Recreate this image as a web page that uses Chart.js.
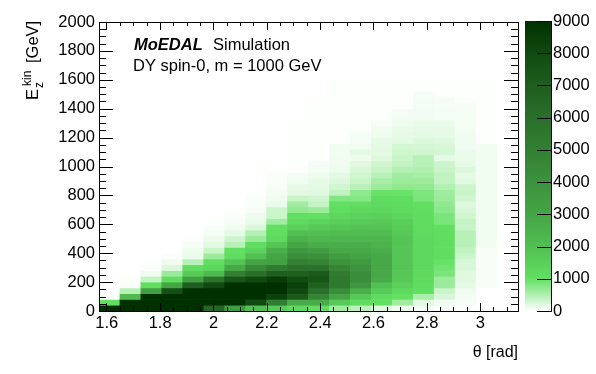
<!DOCTYPE html>
<html>
<head>
<meta charset="utf-8">
<title>MoEDAL simulation</title>
<script src="https://cdn.jsdelivr.net/npm/chart.js@4/dist/chart.umd.min.js"></script>
<style>
  html, body { margin: 0; padding: 0; background: #fff; }
  #wrap { position: relative; width: 596px; height: 374px; overflow: hidden; }
  canvas { position: absolute; top: 0; }
</style>
</head>
<body>
<div id="wrap">
  <canvas id="heatChart" width="596" height="374" style="left:0"></canvas>
  <canvas id="paletteChart" width="71" height="374" style="left:525px"></canvas>
</div>
<script>
// Bin centres in theta [rad], one per column below
const thetaCentres = [1.6101, 1.6886, 1.7671, 1.8457, 1.9242, 2.0028, 2.0813, 2.1598, 2.2384, 2.3169,
                      2.3955, 2.4740, 2.5525, 2.6311, 2.7096, 2.7882, 2.8667, 2.9452, 3.0238, 3.1023];
const energyBin = 40; // GeV per row

// Counts per column, from the lowest energy row upwards
const col0 = [9000, 1000, 10];
const col1 = [9000, 9000, 2200, 450, 40, 20, 8];
const col2 = [9000, 9000, 9000, 3300, 1100, 380, 90, 30, 20, 8, 8];
const col3 = [9000, 9000, 9000, 7700, 3000, 1050, 650, 220, 100, 30, 8, 8, 8, 8];
const col4 = [9000, 9000, 9000, 9000, 7000, 3300, 1600, 1100, 450, 130, 110, 50, 20, 8, 8, 8, 8];
const col5 = [6500, 9000, 9000, 9000, 8000, 5800, 2200, 1300, 1050, 640, 350, 170, 120, 60, 30, 10, 8, 8, 8, 8, 8];
const col6 = [3500, 9000, 9000, 9000, 9000, 7400, 5000, 2900, 1900, 1100, 1000, 450, 320, 170, 100, 50, 40, 12, 8, 8, 8, 8, 8, 8];
const col7 = [2000, 8000, 9000, 9000, 9000, 8000, 6000, 4500, 3100, 2000, 1400, 1100, 650, 480, 220, 140, 90, 50, 45, 30, 12, 8, 8, 8, 8, 8, 8];
const col8 = [1700, 5200, 8300, 9000, 9000, 8500, 7000, 5300, 3200, 3000, 2600, 1800, 1200, 1050, 1000, 600, 330, 330, 130, 100, 70, 50, 40, 30, 12, 8, 8, 8, 8, 8];
const col9 = [1200, 2800, 7200, 8000, 8400, 7900, 6800, 5900, 5000, 4300, 3700, 3000, 2500, 2000, 1500, 1200, 1050, 700, 600, 350, 180, 150, 100, 70, 15, 15, 15, 15, 15, 15, 15, 15, 15];
const col10 = [1050, 2800, 4700, 6000, 6800, 7500, 7200, 5900, 4800, 4100, 3400, 2700, 2300, 2000, 1700, 1400, 1000, 650, 380, 300, 200, 170, 150, 110, 60, 55, 15, 15, 15, 15, 15, 15, 15, 15, 15, 15];
const col11 = [620, 1700, 3000, 4300, 5400, 5500, 5300, 4700, 4000, 3400, 2900, 2600, 2300, 2100, 1800, 1500, 1300, 1100, 1000, 800, 400, 300, 220, 170, 110, 90, 90, 80, 80, 15, 15, 15, 15, 15, 15, 15, 15, 15, 15, 15];
const col12 = [430, 1100, 1700, 2600, 3800, 4300, 4300, 4000, 3600, 3100, 2900, 2600, 2300, 2100, 1900, 1600, 1450, 1250, 1050, 780, 720, 440, 350, 300, 240, 200, 100, 170, 85, 75, 70, 15, 15, 15, 15, 15, 15, 15, 15, 15];
const col13 = [190, 1000, 1100, 1600, 2000, 2800, 2900, 2900, 2900, 2900, 2700, 2500, 2300, 2100, 1900, 1700, 1500, 1300, 1200, 1100, 950, 640, 570, 450, 350, 300, 210, 180, 170, 150, 110, 100, 60, 15, 15, 15, 15, 15, 15, 15];
const col14 = [110, 600, 1000, 1250, 1450, 1700, 1750, 1800, 1800, 1800, 1800, 1800, 1800, 1700, 1600, 1500, 1300, 1200, 1100, 1050, 950, 720, 640, 600, 470, 400, 350, 310, 280, 170, 150, 140, 110, 85, 70, 15, 15, 15, 15, 15];
const col15 = [70, 200, 550, 1000, 1050, 1150, 1250, 1250, 1250, 1250, 1250, 1250, 1250, 1200, 1150, 1100, 1100, 1050, 1000, 850, 830, 700, 640, 570, 500, 450, 450, 300, 270, 220, 170, 150, 140, 85, 85, 70, 70, 60, 15, 15];
const col16 = [10, 90, 250, 340, 640, 640, 850, 900, 970, 1050, 1050, 1050, 1050, 1050, 1000, 850, 850, 750, 700, 640, 620, 500, 400, 400, 350, 320, 170, 270, 250, 210, 150, 150, 130, 70, 70, 65, 60, 15, 15, 15];
const col17 = [5, 60, 70, 100, 150, 190, 200, 250, 250, 330, 400, 450, 450, 450, 350, 380, 300, 250, 210, 300, 350, 320, 200, 170, 220, 150, 140, 130, 100, 100, 100, 80, 75, 75, 75, 75, 15, 15, 15, 15];
const col18 = [0, 0, 0, 0, 50, 50, 50, 50, 50, 50, 50, 80, 80, 80, 80, 80, 80, 80, 80, 80, 80, 80, 80, 80, 80, 80, 80, 80, 80, 15, 15, 15, 15, 15, 15, 15, 15, 15, 15, 15];
const col19 = [];
const columns = [col0, col1, col2, col3, col4, col5, col6, col7, col8, col9,
                 col10, col11, col12, col13, col14, col15, col16, col17, col18, col19];

// Axis ticks
const xTicks = [1.6, 1.8, 2, 2.2, 2.4, 2.6, 2.8, 3];
const yTicks = [0, 200, 400, 600, 800, 1000, 1200, 1400, 1600, 1800, 2000];
const zTicks = [0, 1000, 2000, 3000, 4000, 5000, 6000, 7000, 8000, 9000];
const xMinorStep = 0.05;
const yMinorStep = 50;

// Palette: [count, r, g, b]
const paletteStops = [
  [0, 255, 255, 255], [1000, 98, 224, 98], [2000, 82, 191, 82], [3000, 69, 165, 69],
  [4000, 61, 146, 61], [5000, 51, 128, 51], [6000, 42, 111, 42], [7000, 30, 94, 30],
  [8000, 16, 74, 16], [9000, 0, 48, 0]
];

const FONT = '"Liberation Sans", Arial, Helvetica, sans-serif';

function colorFor(v) {
  const c = Math.min(v, 9000);
  for (let i = 1; i < paletteStops.length; i++) {
    const a = paletteStops[i - 1], b = paletteStops[i];
    if (c <= b[0]) {
      const t = (c - a[0]) / (b[0] - a[0]);
      const mix = k => Math.round(a[k] + (b[k] - a[k]) * t);
      return `rgb(${mix(1)},${mix(2)},${mix(3)})`;
    }
  }
  return 'rgb(0,48,0)';
}

const cells = [];
columns.forEach((col, i) => {
  col.forEach((v, j) => {
    if (v > 0) cells.push({ x: thetaCentres[i], y: [j * energyBin, (j + 1) * energyBin], v });
  });
});

// Frame and ROOT style inward ticks, on all four sides
const frameTicks = {
  id: 'frameTicks',
  afterDatasetsDraw(chart) {
    const { ctx, chartArea: a, scales: { x, y } } = chart;
    const line = (x1, y1, x2, y2) => { ctx.moveTo(x1, y1); ctx.lineTo(x2, y2); };
    ctx.save();
    ctx.strokeStyle = '#000';
    ctx.lineWidth = 1;
    ctx.beginPath();
    line(a.left, a.top + 0.5, a.right + 1, a.top + 0.5);
    line(a.left, a.bottom + 0.5, a.right + 1, a.bottom + 0.5);
    line(a.left + 0.5, a.top, a.left + 0.5, a.bottom + 1);
    line(a.right + 0.5, a.top, a.right + 0.5, a.bottom + 1);
    // theta ticks start from the first labelled value
    for (let t = xTicks[0], n = 0; t <= x.max; n++, t = xTicks[0] + n * xMinorStep) {
      const len = n % 4 === 0 ? 8 : 4;
      const px = Math.round(x.getPixelForValue(t) - 0.3) + 0.5;
      line(px, a.bottom, px, a.bottom - len);
      line(px, a.top, px, a.top + len);
    }
    for (let v = 0; v <= y.max; v += yMinorStep) {
      const len = v % 200 === 0 ? 14 : 7;
      const py = Math.round(y.getPixelForValue(v)) + 0.5;
      line(a.left, py, a.left + len, py);
      line(a.right, py, a.right - len, py);
    }
    ctx.stroke();
    ctx.restore();
  }
};

// Labels that carry mixed fonts or sit inside the frame
const plotLabels = {
  id: 'plotLabels',
  afterDraw(chart) {
    const { ctx } = chart;
    ctx.save();
    ctx.fillStyle = '#000';
    ctx.textBaseline = 'alphabetic';
    ctx.textAlign = 'left';

    ctx.font = `italic bold 16.5px ${FONT}`;
    ctx.fillText('MoEDAL', 134, 50);
    ctx.font = `16.5px ${FONT}`;
    ctx.fillText('Simulation', 213, 50);
    ctx.fillText('DY spin-0, m = 1000 GeV', 133, 71);

    ctx.translate(38, 100);
    ctx.rotate(-Math.PI / 2);
    ctx.fillText('E', 0, 0);
    ctx.font = `12px ${FONT}`;
    ctx.fillText('kin', 14, -7);
    ctx.fillText('z', 12, 5);
    ctx.font = `16.5px ${FONT}`;
    ctx.fillText('[GeV]', 37, 0);
    ctx.restore();
  }
};

new Chart(document.getElementById('heatChart'), {
  type: 'bar',
  data: {
    datasets: [{
      data: cells,
      backgroundColor: ctx => colorFor(ctx.raw ? ctx.raw.v : 0),
      borderWidth: 0,
      grouped: false,
      barPercentage: 1,
      categoryPercentage: 1
    }]
  },
  options: {
    responsive: false,
    animation: false,
    layout: { padding: { top: 22, right: 78, left: 0, bottom: 0 } },
    plugins: { legend: { display: false }, tooltip: { enabled: false } },
    scales: {
      x: {
        type: 'linear',
        min: 1.5708,
        max: 3.1416,
        offset: false,
        afterBuildTicks: s => { s.ticks = xTicks.map(value => ({ value })); },
        afterFit: s => { s.height = 63; },
        grid: { display: false, drawTicks: false },
        border: { display: false },
        ticks: {
          color: '#000',
          font: { family: FONT, size: 16.5 },
          padding: 3,
          maxRotation: 0,
          autoSkip: false,
          callback: v => String(v)
        },
        title: {
          display: true,
          text: 'θ [rad]',
          align: 'end',
          color: '#000',
          font: { family: FONT, size: 16 },
          padding: { top: 0, bottom: 12 }
        }
      },
      y: {
        min: 0,
        max: 2000,
        afterBuildTicks: s => { s.ticks = yTicks.map(value => ({ value })); },
        afterFit: s => { s.width = 99; },
        grid: { display: false, drawTicks: false },
        border: { display: false },
        ticks: {
          color: '#000',
          font: { family: FONT, size: 16.5 },
          padding: 4,
          autoSkip: false,
          callback: v => String(v)
        }
      }
    }
  },
  plugins: [frameTicks, plotLabels]
});

// Colour scale, a single bar filled with the palette
const paletteTicks = {
  id: 'paletteTicks',
  afterDatasetsDraw(chart) {
    const { ctx, chartArea: a, scales: { y } } = chart;
    ctx.save();
    ctx.strokeStyle = '#000';
    ctx.lineWidth = 1;
    ctx.beginPath();
    ctx.moveTo(a.right + 0.5, a.top);
    ctx.lineTo(a.right + 0.5, a.bottom + 1);
    zTicks.forEach(v => {
      const py = Math.round(y.getPixelForValue(v)) + 0.5;
      ctx.moveTo(a.right - 14, py);
      ctx.lineTo(a.right, py);
    });
    ctx.stroke();
    ctx.restore();
  }
};

function paletteFill(ctx) {
  const { chart } = ctx;
  const a = chart.chartArea;
  if (!a) return '#000';
  const g = chart.ctx.createLinearGradient(0, a.bottom, 0, a.top);
  paletteStops.forEach(s => g.addColorStop(s[0] / 9000, `rgb(${s[1]},${s[2]},${s[3]})`));
  return g;
}

new Chart(document.getElementById('paletteChart'), {
  type: 'bar',
  data: {
    labels: [''],
    datasets: [{
      data: [[0, 9000]],
      backgroundColor: paletteFill,
      borderWidth: 0,
      barPercentage: 1,
      categoryPercentage: 1
    }]
  },
  options: {
    responsive: false,
    animation: false,
    layout: { padding: { top: 21, right: 0, left: 0, bottom: 0 } },
    plugins: { legend: { display: false }, tooltip: { enabled: false } },
    scales: {
      x: {
        display: true,
        afterFit: s => { s.height = 63; },
        grid: { display: false, drawTicks: false },
        border: { display: false },
        ticks: { display: false }
      },
      y: {
        position: 'right',
        min: 0,
        max: 9000,
        afterBuildTicks: s => { s.ticks = zTicks.map(value => ({ value })); },
        afterFit: s => { s.width = 45; },
        grid: { display: false, drawTicks: false },
        border: { display: false },
        ticks: {
          color: '#000',
          font: { family: FONT, size: 16.5 },
          padding: 2,
          autoSkip: false,
          callback: v => String(v)
        }
      }
    }
  },
  plugins: [paletteTicks]
});
</script>
</body>
</html>
